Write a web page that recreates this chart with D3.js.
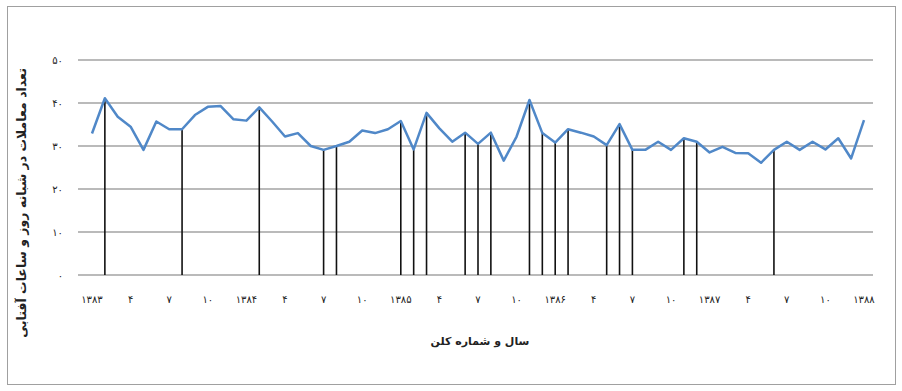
<!DOCTYPE html>
<html>
<head>
<meta charset="utf-8">
<script src="https://cdn.jsdelivr.net/npm/d3@7"></script>
<style>
  body { margin: 0; background: #fff; }
  text { font-family: "DejaVu Sans", sans-serif; }
</style>
</head>
<body>
<div id="chart"></div>
<script>
// data: one value per month, 5 years + 1
const years = ["۱۳۸۳", "۱۳۸۴", "۱۳۸۵", "۱۳۸۶", "۱۳۸۷", "۱۳۸۸"];
const monthLabels = ["", "۴", "۷", "۱۰"];
const values = [
  32.9, 41.1, 36.8, 34.5, 29.1, 35.7, 33.9, 33.9, 37.2, 39.1, 39.3, 36.2,
  35.9, 39.0, 35.7, 32.2, 33.0, 30.0, 29.1, 30.0, 31.0, 33.6, 33.0, 33.9,
  35.8, 29.2, 37.7, 34.1, 31.0, 33.1, 30.5, 33.1, 26.6, 32.2, 40.7, 33.0,
  30.8, 33.9, 33.1, 32.2, 30.2, 35.1, 29.1, 29.1, 31.0, 29.1, 31.8, 31.0,
  28.5, 29.8, 28.4, 28.3, 26.1, 29.1, 31.0, 29.1, 31.0, 29.2, 31.8, 27.1,
  36.0
];
// months that get a drop line down to zero
const marked = [1, 7, 13, 18, 19, 24, 25, 26, 29, 30, 31, 34, 35, 36, 37, 40, 41, 42, 46, 47, 53];
const yTicks = [0, 10, 20, 30, 40, 50];
const yTitle = "تعداد معاملات در شبانه روز و ساعات آفتابی";
const xTitle = "سال و شماره کلن";

const width = 902;
const height = 391;

const fa = n => String(n).replace(/\d/g, c => "۰۱۲۳۴۵۶۷۸۹"[+c]);

const svg = d3.select("#chart")
  .append("svg")
  .attr("width", width)
  .attr("height", height);

// outer frame
svg.append("rect")
  .attr("x", 7.5).attr("y", 6.5)
  .attr("width", 888).attr("height", 378)
  .attr("fill", "none")
  .attr("stroke", "#a0a0a0")
  .attr("stroke-width", 1);

const x = d3.scalePoint()
  .domain(d3.range(values.length))
  .range([92, 864]);

const y = d3.scaleLinear()
  .domain([0, 50])
  .range([275, 60]);

// gridlines
svg.append("g")
  .selectAll("line")
  .data(yTicks)
  .join("line")
  .attr("x1", 78).attr("x2", 873)
  .attr("y1", d => y(d)).attr("y2", d => y(d))
  .attr("stroke", "#a3a3a3")
  .attr("stroke-width", 1.5);

// y labels
svg.append("g")
  .selectAll("text")
  .data(yTicks)
  .join("text")
  .attr("x", 63)
  .attr("y", d => y(d) + 4)
  .attr("text-anchor", "end")
  .attr("font-size", 10)
  .attr("fill", "#222")
  .text(d => fa(d));

// x labels every third month, year at month one
svg.append("g")
  .selectAll("text")
  .data(d3.range(0, values.length, 3))
  .join("text")
  .attr("x", d => x(d))
  .attr("y", 303)
  .attr("text-anchor", "middle")
  .attr("font-size", 10)
  .attr("fill", "#222")
  .text(d => d % 12 === 0 ? years[d / 12] : monthLabels[(d % 12) / 3]);

// drop lines
svg.append("g")
  .selectAll("line")
  .data(marked)
  .join("line")
  .attr("x1", d => x(d)).attr("x2", d => x(d))
  .attr("y1", d => y(values[d])).attr("y2", y(0))
  .attr("stroke", "#111")
  .attr("stroke-width", 1.6);

// series line
svg.append("path")
  .datum(values)
  .attr("fill", "none")
  .attr("stroke", "#5088c8")
  .attr("stroke-width", 2.5)
  .attr("stroke-linejoin", "round")
  .attr("d", d3.line().x((d, i) => x(i)).y(d => y(d)));

// axis titles
svg.append("text")
  .attr("x", 480).attr("y", 345)
  .attr("text-anchor", "middle")
  .attr("font-size", 11)
  .attr("font-weight", "bold")
  .attr("fill", "#222")
  .text(xTitle);

svg.append("text")
  .attr("transform", "translate(26,203) rotate(-90)")
  .attr("text-anchor", "middle")
  .attr("font-size", 12.5)
  .attr("font-weight", "bold")
  .attr("fill", "#222")
  .text(yTitle);
</script>
</body>
</html>
